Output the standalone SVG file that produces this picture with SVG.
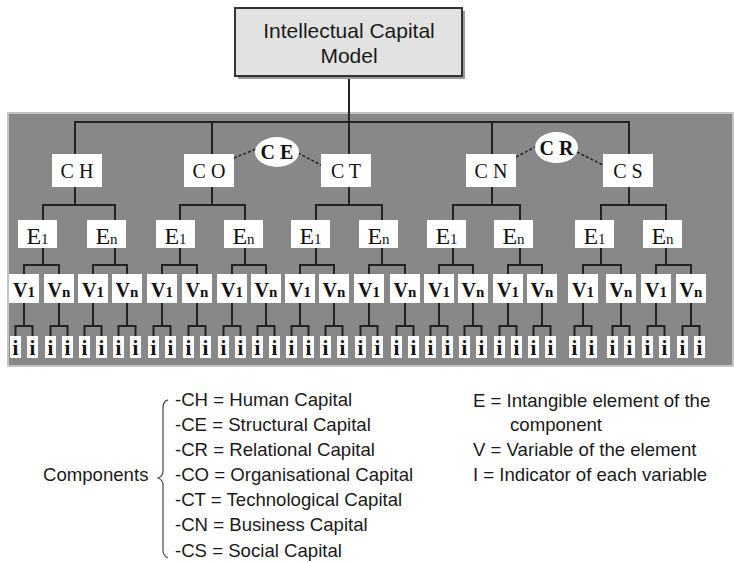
<svg xmlns="http://www.w3.org/2000/svg" width="734" height="563" viewBox="0 0 734 563">
<style>
.bg{fill:#888;stroke:#c4c4c4;stroke-width:2}
.box{fill:#fff}
.conn{fill:none;stroke:#222;stroke-width:2}
.dash{fill:none;stroke:#222;stroke-width:1.5;stroke-dasharray:3 2}
.sf{font-family:"Liberation Serif","Times New Roman",serif;fill:#111;text-anchor:middle}
.c{font-size:20px}
.ce{font-size:20px;font-weight:bold}
.e{font-size:24px}
.es{font-size:15px}
.v{font-size:20px;font-weight:bold}
.vs{font-size:15px}
.i{font-size:21px;font-weight:bold}
.ss{font-family:"Liberation Sans",Arial,sans-serif;fill:#1a1a1a}
.lg{font-size:18.6px}
.tt{font-size:21px;text-anchor:middle}
</style>
<rect x="0" y="0" width="734" height="563" fill="#fff"/>
<rect class="bg" x="8" y="113" width="725" height="253"/>

<g id="connectors">
<path class="conn" d="M349 76V122 M75 154V122H629V154 M212 122V154 M349 122V154 M492 122V154
M75 187V205 M43 220V205H115V220
M212 187V205 M180 220V205H245V220
M349 187V205 M316 220V205H382V220
M492 187V205 M453 220V205H520V220
M629 187V205 M601 220V205H666V220
M43 248V265 M24 274V265H59V274
M115 248V265 M93 274V265H127V274
M180 248V265 M162 274V265H197V274
M245 248V265 M232 274V265H266V274
M316 248V265 M300 274V265H334V274
M382 248V265 M369 274V265H405V274
M453 248V265 M439 274V265H473V274
M520 248V265 M508 274V265H542V274
M601 248V265 M583 274V265H621V274
M666 248V265 M656 274V265H691V274
M24 303V326 M15.5 336V326H32.5V336
M59 303V326 M50.5 336V326H67.5V336
M93 303V326 M84.5 336V326H101.5V336
M127 303V326 M118.5 336V326H135.5V336
M162 303V326 M153.5 336V326H170.5V336
M197 303V326 M188.5 336V326H205.5V336
M232 303V326 M223.5 336V326H240.5V336
M266 303V326 M257.5 336V326H274.5V336
M300 303V326 M291.5 336V326H308.5V336
M334 303V326 M325.5 336V326H342.5V336
M369 303V326 M360.5 336V326H377.5V336
M405 303V326 M396.5 336V326H413.5V336
M439 303V326 M430.5 336V326H447.5V336
M473 303V326 M464.5 336V326H481.5V336
M508 303V326 M499.5 336V326H516.5V336
M542 303V326 M533.5 336V326H550.5V336
M583 303V326 M574.5 336V326H591.5V336
M621 303V326 M612.5 336V326H629.5V336
M656 303V326 M647.5 336V326H664.5V336
M691 303V326 M682.5 336V326H699.5V336"/>
<path class="dash" d="M234 158L256 149 M298 153L321 165 M516 157L535 147 M577 152L603 165"/>
</g>

<g id="n-title">
<rect x="238" y="11" width="227" height="68" fill="#9a9a9a"/>
<rect x="235" y="8" width="227" height="68" fill="#e2e2e2" stroke="#333" stroke-width="2"/>
<text class="ss tt" x="349" y="38">Intellectual Capital</text>
<text class="ss tt" x="349" y="63">Model</text>
</g>

<g id="n-CH"><rect class="box" x="52" y="154" width="50" height="33"/><text class="sf c" x="77" y="178">C H</text></g>
<g id="n-CO"><rect class="box" x="184" y="154" width="50" height="33"/><text class="sf c" x="209" y="178">C O</text></g>
<g id="n-CT"><rect class="box" x="321" y="154" width="50" height="33"/><text class="sf c" x="346" y="178">C T</text></g>
<g id="n-CN"><rect class="box" x="466" y="154" width="50" height="33"/><text class="sf c" x="491" y="178">C N</text></g>
<g id="n-CS"><rect class="box" x="603" y="154" width="50" height="33"/><text class="sf c" x="628" y="178">C S</text></g>
<g id="n-CE"><ellipse class="box" cx="277" cy="152" rx="22" ry="15"/><text class="sf ce" x="277" y="159">C E</text></g>
<g id="n-CR"><ellipse class="box" cx="556.5" cy="147.5" rx="21.5" ry="15.5"/><text class="sf ce" x="556.5" y="154.5">C R</text></g>

<g id="n-CH-E1"><rect class="box" x="18" y="220" width="39" height="28"/><text class="sf e" x="37.5" y="244">E<tspan class="es">1</tspan></text></g>
<g id="n-CH-En"><rect class="box" x="87" y="220" width="39" height="28"/><text class="sf e" x="106.5" y="244">E<tspan class="es">n</tspan></text></g>
<g id="n-CO-E1"><rect class="box" x="156" y="220" width="39" height="28"/><text class="sf e" x="175.5" y="244">E<tspan class="es">1</tspan></text></g>
<g id="n-CO-En"><rect class="box" x="224" y="220" width="39" height="28"/><text class="sf e" x="243.5" y="244">E<tspan class="es">n</tspan></text></g>
<g id="n-CT-E1"><rect class="box" x="291" y="220" width="39" height="28"/><text class="sf e" x="310.5" y="244">E<tspan class="es">1</tspan></text></g>
<g id="n-CT-En"><rect class="box" x="359" y="220" width="39" height="28"/><text class="sf e" x="378.5" y="244">E<tspan class="es">n</tspan></text></g>
<g id="n-CN-E1"><rect class="box" x="427" y="220" width="39" height="28"/><text class="sf e" x="446.5" y="244">E<tspan class="es">1</tspan></text></g>
<g id="n-CN-En"><rect class="box" x="494" y="220" width="39" height="28"/><text class="sf e" x="513.5" y="244">E<tspan class="es">n</tspan></text></g>
<g id="n-CS-E1"><rect class="box" x="575" y="220" width="39" height="28"/><text class="sf e" x="594.5" y="244">E<tspan class="es">1</tspan></text></g>
<g id="n-CS-En"><rect class="box" x="643" y="220" width="39" height="28"/><text class="sf e" x="662.5" y="244">E<tspan class="es">n</tspan></text></g>

<g id="n-V01"><rect class="box" x="9" y="274" width="30" height="29"/><text class="sf v" x="24" y="297">V<tspan class="vs">1</tspan></text></g>
<g id="n-V02"><rect class="box" x="44" y="274" width="30" height="29"/><text class="sf v" x="59" y="297">V<tspan class="vs">n</tspan></text></g>
<g id="n-V03"><rect class="box" x="78" y="274" width="30" height="29"/><text class="sf v" x="93" y="297">V<tspan class="vs">1</tspan></text></g>
<g id="n-V04"><rect class="box" x="112" y="274" width="30" height="29"/><text class="sf v" x="127" y="297">V<tspan class="vs">n</tspan></text></g>
<g id="n-V05"><rect class="box" x="147" y="274" width="30" height="29"/><text class="sf v" x="162" y="297">V<tspan class="vs">1</tspan></text></g>
<g id="n-V06"><rect class="box" x="182" y="274" width="30" height="29"/><text class="sf v" x="197" y="297">V<tspan class="vs">n</tspan></text></g>
<g id="n-V07"><rect class="box" x="217" y="274" width="30" height="29"/><text class="sf v" x="232" y="297">V<tspan class="vs">1</tspan></text></g>
<g id="n-V08"><rect class="box" x="251" y="274" width="30" height="29"/><text class="sf v" x="266" y="297">V<tspan class="vs">n</tspan></text></g>
<g id="n-V09"><rect class="box" x="285" y="274" width="30" height="29"/><text class="sf v" x="300" y="297">V<tspan class="vs">1</tspan></text></g>
<g id="n-V10"><rect class="box" x="319" y="274" width="30" height="29"/><text class="sf v" x="334" y="297">V<tspan class="vs">n</tspan></text></g>
<g id="n-V11"><rect class="box" x="354" y="274" width="30" height="29"/><text class="sf v" x="369" y="297">V<tspan class="vs">1</tspan></text></g>
<g id="n-V12"><rect class="box" x="390" y="274" width="30" height="29"/><text class="sf v" x="405" y="297">V<tspan class="vs">n</tspan></text></g>
<g id="n-V13"><rect class="box" x="424" y="274" width="30" height="29"/><text class="sf v" x="439" y="297">V<tspan class="vs">1</tspan></text></g>
<g id="n-V14"><rect class="box" x="458" y="274" width="30" height="29"/><text class="sf v" x="473" y="297">V<tspan class="vs">n</tspan></text></g>
<g id="n-V15"><rect class="box" x="493" y="274" width="30" height="29"/><text class="sf v" x="508" y="297">V<tspan class="vs">1</tspan></text></g>
<g id="n-V16"><rect class="box" x="527" y="274" width="30" height="29"/><text class="sf v" x="542" y="297">V<tspan class="vs">n</tspan></text></g>
<g id="n-V17"><rect class="box" x="568" y="274" width="30" height="29"/><text class="sf v" x="583" y="297">V<tspan class="vs">1</tspan></text></g>
<g id="n-V18"><rect class="box" x="606" y="274" width="30" height="29"/><text class="sf v" x="621" y="297">V<tspan class="vs">n</tspan></text></g>
<g id="n-V19"><rect class="box" x="641" y="274" width="30" height="29"/><text class="sf v" x="656" y="297">V<tspan class="vs">1</tspan></text></g>
<g id="n-V20"><rect class="box" x="676" y="274" width="30" height="29"/><text class="sf v" x="691" y="297">V<tspan class="vs">n</tspan></text></g>

<g id="n-i01"><rect class="box" x="10" y="336" width="11" height="22"/><text class="sf i" x="15.5" y="355">i</text></g>
<g id="n-i02"><rect class="box" x="27" y="336" width="11" height="22"/><text class="sf i" x="32.5" y="355">i</text></g>
<g id="n-i03"><rect class="box" x="45" y="336" width="11" height="22"/><text class="sf i" x="50.5" y="355">i</text></g>
<g id="n-i04"><rect class="box" x="62" y="336" width="11" height="22"/><text class="sf i" x="67.5" y="355">i</text></g>
<g id="n-i05"><rect class="box" x="79" y="336" width="11" height="22"/><text class="sf i" x="84.5" y="355">i</text></g>
<g id="n-i06"><rect class="box" x="96" y="336" width="11" height="22"/><text class="sf i" x="101.5" y="355">i</text></g>
<g id="n-i07"><rect class="box" x="113" y="336" width="11" height="22"/><text class="sf i" x="118.5" y="355">i</text></g>
<g id="n-i08"><rect class="box" x="130" y="336" width="11" height="22"/><text class="sf i" x="135.5" y="355">i</text></g>
<g id="n-i09"><rect class="box" x="148" y="336" width="11" height="22"/><text class="sf i" x="153.5" y="355">i</text></g>
<g id="n-i10"><rect class="box" x="165" y="336" width="11" height="22"/><text class="sf i" x="170.5" y="355">i</text></g>
<g id="n-i11"><rect class="box" x="183" y="336" width="11" height="22"/><text class="sf i" x="188.5" y="355">i</text></g>
<g id="n-i12"><rect class="box" x="200" y="336" width="11" height="22"/><text class="sf i" x="205.5" y="355">i</text></g>
<g id="n-i13"><rect class="box" x="218" y="336" width="11" height="22"/><text class="sf i" x="223.5" y="355">i</text></g>
<g id="n-i14"><rect class="box" x="235" y="336" width="11" height="22"/><text class="sf i" x="240.5" y="355">i</text></g>
<g id="n-i15"><rect class="box" x="252" y="336" width="11" height="22"/><text class="sf i" x="257.5" y="355">i</text></g>
<g id="n-i16"><rect class="box" x="269" y="336" width="11" height="22"/><text class="sf i" x="274.5" y="355">i</text></g>
<g id="n-i17"><rect class="box" x="286" y="336" width="11" height="22"/><text class="sf i" x="291.5" y="355">i</text></g>
<g id="n-i18"><rect class="box" x="303" y="336" width="11" height="22"/><text class="sf i" x="308.5" y="355">i</text></g>
<g id="n-i19"><rect class="box" x="320" y="336" width="11" height="22"/><text class="sf i" x="325.5" y="355">i</text></g>
<g id="n-i20"><rect class="box" x="337" y="336" width="11" height="22"/><text class="sf i" x="342.5" y="355">i</text></g>
<g id="n-i21"><rect class="box" x="355" y="336" width="11" height="22"/><text class="sf i" x="360.5" y="355">i</text></g>
<g id="n-i22"><rect class="box" x="372" y="336" width="11" height="22"/><text class="sf i" x="377.5" y="355">i</text></g>
<g id="n-i23"><rect class="box" x="391" y="336" width="11" height="22"/><text class="sf i" x="396.5" y="355">i</text></g>
<g id="n-i24"><rect class="box" x="408" y="336" width="11" height="22"/><text class="sf i" x="413.5" y="355">i</text></g>
<g id="n-i25"><rect class="box" x="425" y="336" width="11" height="22"/><text class="sf i" x="430.5" y="355">i</text></g>
<g id="n-i26"><rect class="box" x="442" y="336" width="11" height="22"/><text class="sf i" x="447.5" y="355">i</text></g>
<g id="n-i27"><rect class="box" x="459" y="336" width="11" height="22"/><text class="sf i" x="464.5" y="355">i</text></g>
<g id="n-i28"><rect class="box" x="476" y="336" width="11" height="22"/><text class="sf i" x="481.5" y="355">i</text></g>
<g id="n-i29"><rect class="box" x="494" y="336" width="11" height="22"/><text class="sf i" x="499.5" y="355">i</text></g>
<g id="n-i30"><rect class="box" x="511" y="336" width="11" height="22"/><text class="sf i" x="516.5" y="355">i</text></g>
<g id="n-i31"><rect class="box" x="528" y="336" width="11" height="22"/><text class="sf i" x="533.5" y="355">i</text></g>
<g id="n-i32"><rect class="box" x="545" y="336" width="11" height="22"/><text class="sf i" x="550.5" y="355">i</text></g>
<g id="n-i33"><rect class="box" x="569" y="336" width="11" height="22"/><text class="sf i" x="574.5" y="355">i</text></g>
<g id="n-i34"><rect class="box" x="586" y="336" width="11" height="22"/><text class="sf i" x="591.5" y="355">i</text></g>
<g id="n-i35"><rect class="box" x="607" y="336" width="11" height="22"/><text class="sf i" x="612.5" y="355">i</text></g>
<g id="n-i36"><rect class="box" x="624" y="336" width="11" height="22"/><text class="sf i" x="629.5" y="355">i</text></g>
<g id="n-i37"><rect class="box" x="642" y="336" width="11" height="22"/><text class="sf i" x="647.5" y="355">i</text></g>
<g id="n-i38"><rect class="box" x="659" y="336" width="11" height="22"/><text class="sf i" x="664.5" y="355">i</text></g>
<g id="n-i39"><rect class="box" x="677" y="336" width="11" height="22"/><text class="sf i" x="682.5" y="355">i</text></g>
<g id="n-i40"><rect class="box" x="694" y="336" width="11" height="22"/><text class="sf i" x="699.5" y="355">i</text></g>

<g id="legend">
<path d="M168 400Q163 401 163 408V471Q163 476 158 478Q163 480 163 485V550Q163 556 168 558" fill="none" stroke="#555" stroke-width="1.3"/>
<text class="ss lg" x="43" y="481">Components</text>
<text class="ss lg" x="175" y="406">-CH = Human Capital</text>
<text class="ss lg" x="175" y="431">-CE = Structural Capital</text>
<text class="ss lg" x="175" y="456">-CR = Relational Capital</text>
<text class="ss lg" x="175" y="481">-CO = Organisational Capital</text>
<text class="ss lg" x="175" y="506">-CT = Technological Capital</text>
<text class="ss lg" x="175" y="531">-CN = Business Capital</text>
<text class="ss lg" x="175" y="557">-CS = Social Capital</text>
<text class="ss lg" x="473" y="407">E = Intangible element of the</text>
<text class="ss lg" x="510" y="431">component</text>
<text class="ss lg" x="473" y="456">V = Variable of the element</text>
<text class="ss lg" x="473" y="481">I = Indicator of each variable</text>
</g>
</svg>
